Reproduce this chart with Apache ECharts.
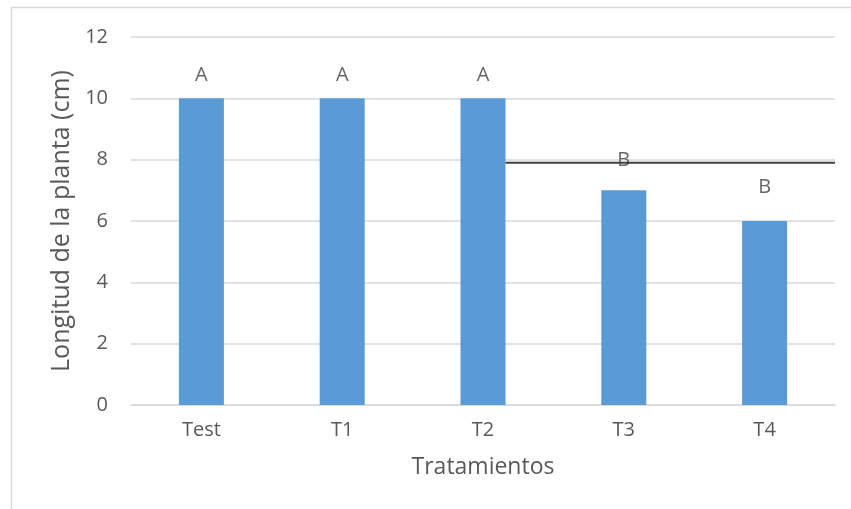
<!DOCTYPE html>
<html>
<head>
<meta charset="utf-8">
<script src="https://cdn.jsdelivr.net/npm/echarts@6/dist/echarts.min.js"></script>
<style>
  html, body { margin: 0; padding: 0; background: #fff; }
  #chart { width: 851px; height: 509px; }
</style>
</head>
<body>
<div id="chart"></div>
<script>
// Plant length per treatment
const categories = ['Test', 'T1', 'T2', 'T3', 'T4'];
const lengths = [10, 10, 10, 7, 6];
// Significance group letters and the height each is written at
const groupLetters = ['A', 'A', 'A', 'B', 'B'];
const letterHeights = [10.75, 10.75, 10.75, 7.98, 7.1];
// Separator line between groups (x in category units, y in cm)
const separatorLine = [[2.66, 7.9], [5, 7.9]];
const yTicks = { min: 0, max: 12, interval: 2 };

const FONT = 'Open Sans';
const chart = echarts.init(document.getElementById('chart'));

chart.setOption({
  animation: false,
  backgroundColor: '#fff',
  textStyle: { fontFamily: FONT },
  graphic: [{
    type: 'rect',
    shape: { x: 11.5, y: 7.5, width: 900, height: 600 },
    style: { fill: 'none', stroke: '#D9D9D9', lineWidth: 1.5 },
    silent: true
  }],
  grid: { left: 131, right: 16, top: 37, bottom: 104, containLabel: false },
  xAxis: [{
    type: 'category',
    data: categories,
    name: 'Tratamientos',
    nameLocation: 'middle',
    nameGap: 51,
    nameTextStyle: { fontSize: 23, color: '#595959', fontFamily: FONT },
    axisLine: { lineStyle: { color: '#D9D9D9', width: 1.5 } },
    axisTick: { show: false },
    axisLabel: { fontSize: 20, color: '#595959', margin: 15, fontFamily: FONT }
  }, {
    type: 'value',
    min: 0, max: 5,
    show: false
  }],
  yAxis: {
    type: 'value',
    min: yTicks.min, max: yTicks.max, interval: yTicks.interval,
    name: 'Longitud de la planta (cm)',
    nameLocation: 'middle',
    nameGap: 55,
    nameTextStyle: { fontSize: 25, color: '#595959', fontFamily: FONT },
    axisLine: { show: false },
    axisTick: { show: false },
    axisLabel: { fontSize: 20, color: '#595959', margin: 23, fontFamily: FONT },
    splitLine: { lineStyle: { color: '#D9D9D9', width: 1.5 } }
  },
  series: [{
    type: 'bar',
    data: lengths,
    barWidth: 45,
    itemStyle: { color: '#5B9BD5' },
    z: 2
  }, {
    type: 'scatter',
    data: letterHeights.map((h, i) => ({ value: [categories[i], h], letter: groupLetters[i] })),
    symbolSize: 0,
    label: {
      show: true,
      position: 'inside',
      formatter: p => p.data.letter,
      fontSize: 20,
      color: '#404040',
      fontFamily: FONT
    },
    z: 4
  }, {
    type: 'line',
    xAxisIndex: 1,
    data: separatorLine,
    symbol: 'none',
    lineStyle: { color: '#404040', width: 2 },
    z: 3
  }]
});
</script>
</body>
</html>
